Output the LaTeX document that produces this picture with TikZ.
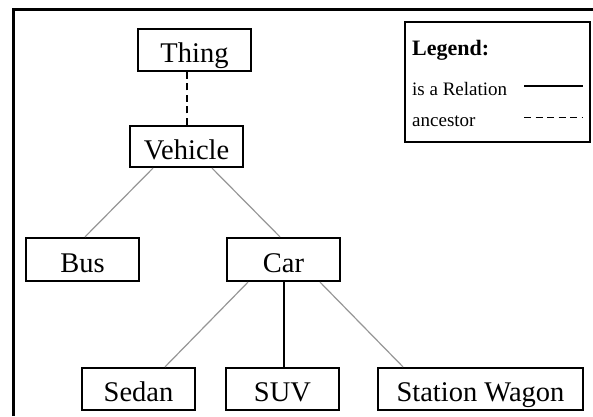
\documentclass[tikz,border=0pt]{standalone}
\usepackage{fontspec}
\setmainfont{Liberation Serif}
\begin{document}
\begin{tikzpicture}[x=1pt,y=-1pt,
  box/.style={draw=black,line width=2.2pt,inner sep=0pt,minimum height=42pt,
    text height=25pt,text depth=0pt,font=\fontsize{28.5}{31}\selectfont},
  isa/.style={draw={rgb,255:red,150;green,150;blue,150},line width=1.2pt},
  isastrong/.style={draw=black,line width=2pt},
  anc/.style={draw=black,line width=2pt,dash pattern=on 7pt off 4.5pt},
  legtext/.style={anchor=base west,inner sep=0pt,font=\fontsize{19}{22}\selectfont}]
  \useasboundingbox (0,0) rectangle (593,416);
  % open frame: left and top edges only
  \draw[line width=3pt] (13,416) -- (13,9.5) -- (593,9.5);

  % nodes
  \node[box,minimum width=113pt] (thing)   at (194.5,50)  {Thing};
  \node[box,minimum width=113pt,minimum height=41pt] (vehicle) at (186.5,146.5) {Vehicle};
  \node[box,minimum width=113pt,minimum height=43pt] (bus)   at (82.5,259.5)  {Bus};
  \node[box,minimum width=113pt,minimum height=43pt] (car)   at (283.5,259.5) {Car};
  \node[box,minimum width=113pt] (sedan)   at (138.5,389)   {Sedan};
  \node[box,minimum width=113pt] (suv)     at (282.5,389)   {SUV};
  \node[box,minimum width=205pt] (wagon)   at (480.5,389)   {Station Wagon};

  % connectors
  \draw[anc] (vehicle.north) -- (vehicle.north |- thing.south);
  \draw[isa] ([xshift=-33.5pt]vehicle.south) -- ([xshift=2.5pt]bus.north);
  \draw[isa] ([xshift=25.5pt]vehicle.south) -- ([xshift=-3.5pt]car.north);
  \draw[isa] ([xshift=-35.5pt]car.south) -- ([xshift=26.5pt]sedan.north);
  \draw[isastrong] (car.south) -- (car.south |- suv.north);
  \draw[isa] ([xshift=36.5pt]car.south) -- ([xshift=-77.5pt]wagon.north);

  % legend
  \node[draw=black,line width=2pt,minimum width=185pt,minimum height=120pt,inner sep=0pt]
    (legend) at (497.5,82) {};
  \node[legtext,font=\fontsize{22}{24}\selectfont\bfseries] (legtitle) at (412,55) {Legend:};
  \node[legtext] (legisa) at (412,95) {is a Relation};
  \node[legtext] (leganc) at (412,126.5) {ancestor};
  \coordinate (isaA) at (524,86);
  \coordinate (isaB) at (583,86);
  \coordinate (ancA) at (524,117.5);
  \coordinate (ancB) at (583,117.5);
  \draw[isastrong,line width=1.6pt] (isaA) -- (isaB);
  \draw[anc,line width=1.6pt] (ancA) -- (ancB);
\end{tikzpicture}
\end{document}
